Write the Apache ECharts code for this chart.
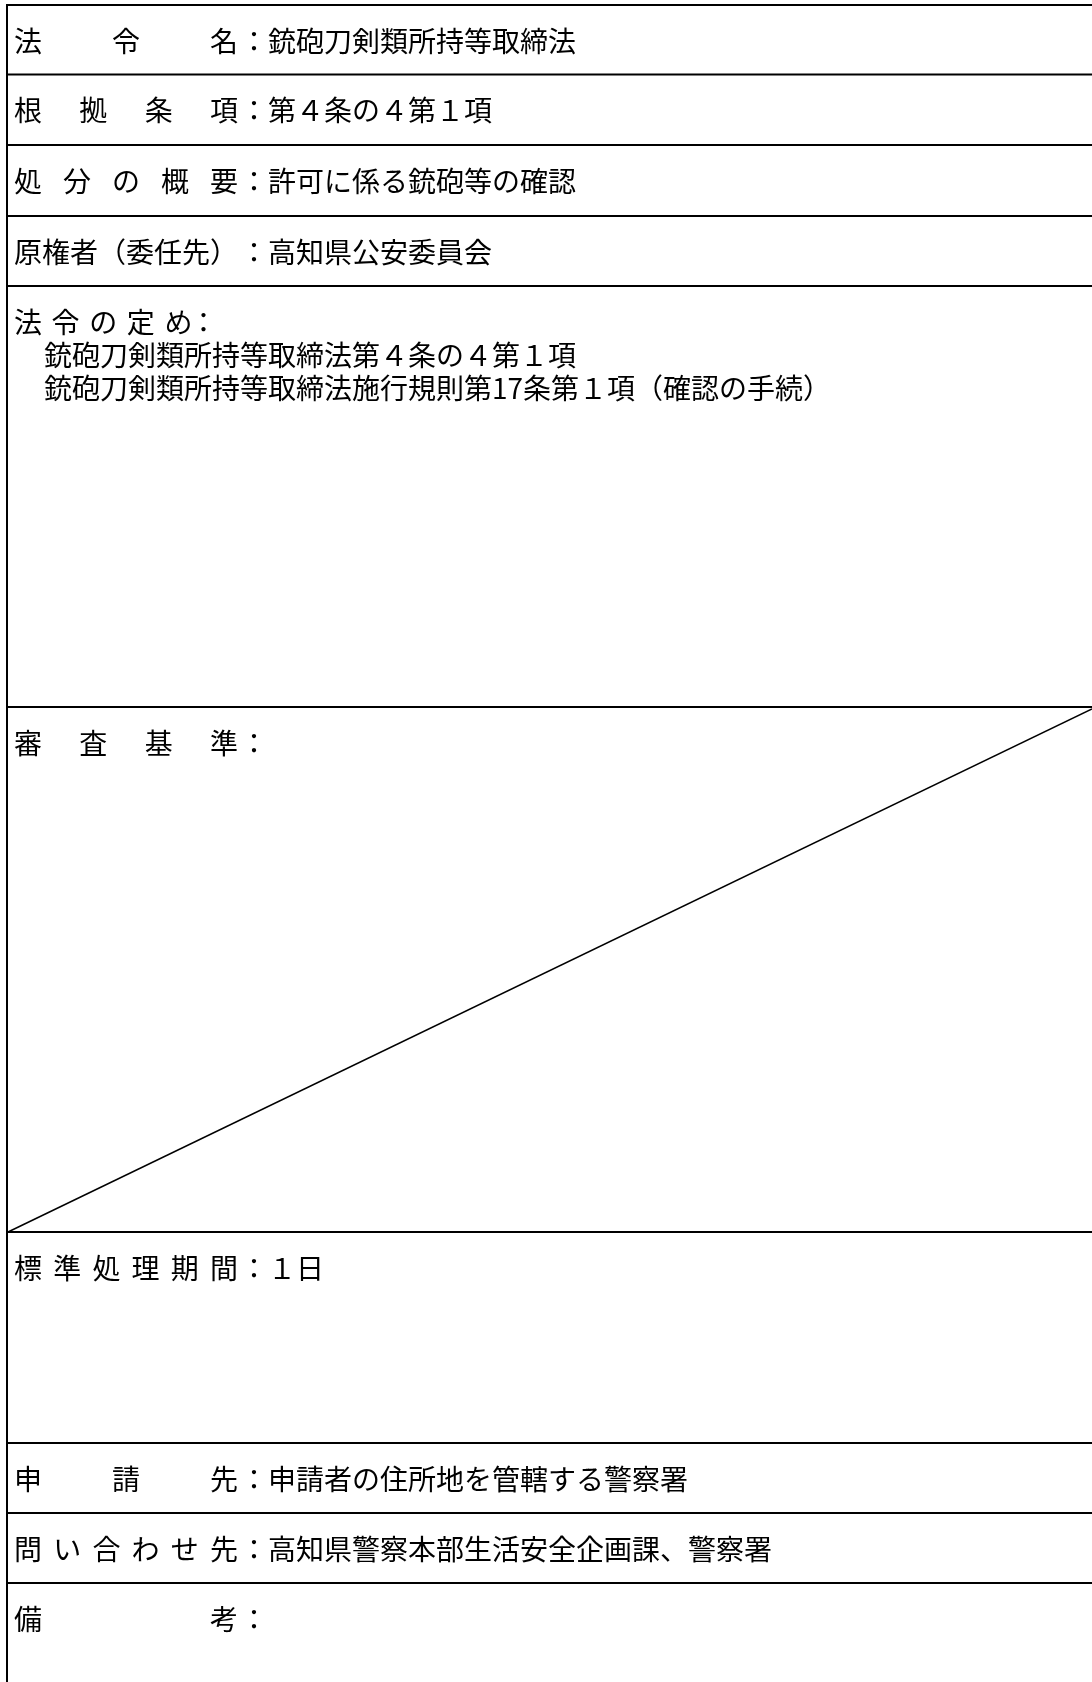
<!DOCTYPE html>
<html><head><meta charset="utf-8">
<script src="https://cdn.jsdelivr.net/npm/echarts@6/dist/echarts.min.js"></script>
<style>html,body{margin:0;padding:0;background:#fff}#c{width:1092px;height:1682px}</style>
</head><body><div id="c"></div>
<script>
// ---- content ----
const labels = ['法令名','根拠条項','処分の概要','原権者（委任先）','法令の定め','審査基準','標準処理期間','申請先','問い合わせ先','備考'];
const values = ['銃砲刀剣類所持等取締法','第４条の４第１項','許可に係る銃砲等の確認','高知県公安委員会','','','１日','申請者の住所地を管轄する警察署','高知県警察本部生活安全企画課、警察署',''];
const provisions = ['銃砲刀剣類所持等取締法第４条の４第１項','銃砲刀剣類所持等取締法施行規則第17条第１項（確認の手続）'];
const naRows = [5];            // rows struck through (not applicable)

// ---- layout ----
const rowEdges = [5,74.5,145,216,286,707,1232,1443,1513,1583,1682];
const labelMode = ['spread','spread','spread','flow','loose','spread','spread','spread','spread','spread'];
const W = 1092, H = 1682;
const FONT = '28px "Noto Sans CJK JP", "Noto Sans CJK SC", sans-serif';
const X0 = 14, EM = 28, LAST = X0 + 7*EM, COLON_C = 254, VAL_X = 268, LOOSE = 37.6, IND_X = 44, LH = 33;

function txt(api, s, x, y, align) {
  const p = api.coord([x, y]);
  return {type:'text', style:{text:s, x:p[0], y:p[1], font:FONT, fill:'#000', align:align||'left', verticalAlign:'middle'}};
}
function seg(api, a, b, w) {
  const p = api.coord(a), q = api.coord(b);
  return {type:'line', shape:{x1:p[0], y1:p[1], x2:q[0], y2:q[1]}, style:{stroke:'#000', lineWidth:w}};
}

function renderItem(params, api) {
  const i = api.value(0);
  const top = rowEdges[i], bot = rowEdges[i+1], cy = top + 36;
  const ch = [];
  ch.push(seg(api, [6, top], [W, top], 2));
  ch.push(seg(api, [7, top], [7, bot], 2));
  const lab = labels[i], mode = labelMode[i];
  if (mode === 'flow') {
    ch.push(txt(api, lab, X0, cy));
    ch.push(txt(api, '：', COLON_C, cy, 'center'));
  } else if (mode === 'loose') {
    const cs = Array.from(lab);
    cs.forEach((c, k) => ch.push(txt(api, c, X0 + k*LOOSE, cy)));
    ch.push(txt(api, '：', X0 + cs.length*LOOSE + 1.5, cy, 'center'));
  } else {
    const cs = Array.from(lab), n = cs.length;
    cs.forEach((c, k) => ch.push(txt(api, c, n > 1 ? X0 + k*(LAST - X0)/(n-1) : X0, cy)));
    ch.push(txt(api, '：', COLON_C, cy, 'center'));
  }
  if (values[i]) ch.push(txt(api, values[i], VAL_X, cy));
  if (i === 4) provisions.forEach((s, k) => ch.push(txt(api, s, IND_X, cy + LH*(k+1))));
  if (naRows.indexOf(i) >= 0) ch.push(seg(api, [W, top + 2], [8, bot], 1.5));
  return {type:'group', children:ch};
}

const chart = echarts.init(document.getElementById('c'), null, {renderer:'canvas'});
chart.setOption({
  animation:false,
  backgroundColor:'#fff',
  grid:{left:0, right:0, top:0, bottom:0},
  xAxis:{type:'value', min:0, max:W, show:false},
  yAxis:{type:'value', min:0, max:H, inverse:true, show:false},
  series:[{
    type:'custom', silent:true, clip:false,
    renderItem:renderItem,
    encode:{x:0, y:0},
    data:labels.map((l, i) => [i])
  }]
});
</script></body></html>
